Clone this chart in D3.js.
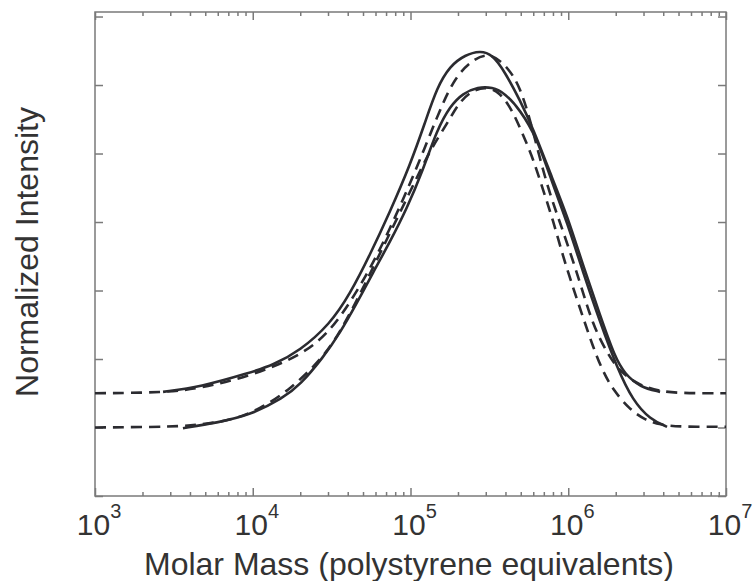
<!DOCTYPE html>
<html>
<head>
<meta charset="utf-8">
<script src="https://cdn.jsdelivr.net/npm/d3@7"></script>
<style>
  body { margin: 0; background: #fff; }
  text { font-family: "Liberation Sans", Arial, sans-serif; fill: #333; }
</style>
</head>
<body>
<div id="chart-area"></div>
<script>
// x values: molar mass, y values: normalized intensity (offset curves)
const massUpperSolid = [2700, 4630, 9610, 13400, 19900, 30900, 41400, 55300, 74100, 99300, 124000, 147000, 178000, 222000, 276000, 329000, 397000, 494000, 598000, 800000, 982000, 1240000, 1590000, 1980000, 2290000, 2850000, 3820000];
const intUpperSolid = [1.52, 1.59, 1.80, 1.91, 2.12, 2.51, 2.95, 3.52, 4.15, 4.83, 5.46, 5.96, 6.28, 6.44, 6.50, 6.45, 6.19, 5.78, 5.37, 4.61, 4.10, 3.37, 2.64, 2.02, 1.78, 1.59, 1.52];

const massUpperFit = [1000, 2780, 4630, 9610, 19900, 30900, 45800, 64100, 89500, 115000, 147000, 186000, 238000, 319000, 428000, 494000, 571000, 733000, 926000, 1190000, 1430000, 1760000, 2130000, 2850000, 3820000, 5100000, 10000000];
const intUpperFit = [1.50, 1.51, 1.57, 1.75, 2.04, 2.39, 2.98, 3.59, 4.32, 4.91, 5.53, 6.07, 6.34, 6.50, 6.22, 5.96, 5.52, 4.51, 3.88, 3.11, 2.50, 2.09, 1.81, 1.61, 1.53, 1.50, 1.50];

const massLowerSolid = [3610, 5930, 9610, 15600, 19900, 27900, 35700, 45800, 57800, 74100, 95000, 120000, 147000, 178000, 215000, 268000, 329000, 397000, 494000, 634000, 800000, 982000, 1240000, 1590000, 2040000, 2570000, 3300000, 4230000];
const intLowerSolid = [0.99, 1.07, 1.18, 1.43, 1.62, 2.02, 2.38, 2.82, 3.26, 3.71, 4.20, 4.76, 5.34, 5.69, 5.88, 5.97, 5.97, 5.88, 5.64, 5.23, 4.54, 4.00, 3.27, 2.54, 1.87, 1.39, 1.12, 1.01];

const massLowerFit = [1000, 3210, 4630, 7500, 11100, 17200, 27900, 35700, 45800, 57800, 74100, 99300, 133000, 170000, 200000, 238000, 297000, 369000, 447000, 517000, 598000, 692000, 800000, 926000, 1070000, 1240000, 1430000, 1640000, 1920000, 2460000, 3070000, 3820000, 5100000, 10000000];
const intLowerFit = [1.00, 1.01, 1.04, 1.11, 1.27, 1.55, 2.02, 2.39, 2.86, 3.33, 3.84, 4.44, 5.05, 5.43, 5.72, 5.90, 5.98, 5.90, 5.61, 5.27, 4.93, 4.47, 4.03, 3.50, 3.05, 2.61, 2.19, 1.84, 1.55, 1.26, 1.11, 1.04, 1.01, 1.01];

const xDomain = [1e3, 1e7];
const xMajor = [1e3, 1e4, 1e5, 1e6, 1e7];
const xExponents = ['3', '4', '5', '6', '7'];
const yTicks = [0, 1, 2, 3, 4, 5, 6, 7];

const margin = { top: 12, right: 27, bottom: 85, left: 95 };
const W = 753, H = 581;
const width = W - margin.left - margin.right;
const height = H - margin.top - margin.bottom;

const svg = d3.select('#chart-area').append('svg')
  .attr('width', W).attr('height', H);
const g = svg.append('g')
  .attr('transform', `translate(${margin.left}, ${margin.top})`);

const x = d3.scaleLog().domain(xDomain).range([0, width]);
const y = d3.scaleLinear().domain([0, 7.066]).range([height, 0]);

// minor ticks 2..9 in each decade
const xMinor = [];
xMajor.slice(0, -1).forEach(d => {
  for (let k = 2; k <= 9; k++) xMinor.push(d * k);
});

const axisColor = '#7a7a7a';
const styleAxis = sel => {
  sel.select('.domain').remove();
  sel.selectAll('line').attr('stroke', axisColor).attr('stroke-width', 1.5);
  sel.selectAll('text').remove();
};

// bottom and top ticks (pointing inward)
g.append('g').attr('transform', `translate(0, ${height})`)
  .call(d3.axisBottom(x).tickValues(xMajor).tickSize(-8)).call(styleAxis);
g.append('g').attr('transform', `translate(0, ${height})`)
  .call(d3.axisBottom(x).tickValues(xMinor).tickSize(-4)).call(styleAxis);
g.append('g')
  .call(d3.axisTop(x).tickValues(xMajor).tickSize(-8)).call(styleAxis);
g.append('g')
  .call(d3.axisTop(x).tickValues(xMinor).tickSize(-4)).call(styleAxis);
// left and right ticks
g.append('g')
  .call(d3.axisLeft(y).tickValues(yTicks).tickSize(-8)).call(styleAxis);
g.append('g').attr('transform', `translate(${width}, 0)`)
  .call(d3.axisRight(y).tickValues(yTicks).tickSize(-8)).call(styleAxis);

// frame
g.append('rect')
  .attr('x', 0).attr('y', 0)
  .attr('width', width).attr('height', height)
  .attr('fill', 'none')
  .attr('stroke', axisColor)
  .attr('stroke-width', 1.5);

// x tick labels: 10^n
xMajor.forEach((d, i) => {
  const t = g.append('text')
    .attr('x', x(d) + 4)
    .attr('y', height + 39)
    .attr('text-anchor', 'middle')
    .attr('font-size', '30px');
  t.append('tspan').text('10');
  t.append('tspan').attr('font-size', '20px').attr('dy', -17).text(xExponents[i]);
});

// axis titles
svg.append('text')
  .attr('x', 409)
  .attr('y', 575)
  .attr('text-anchor', 'middle')
  .attr('font-size', '32px')
  .text('Molar Mass (polystyrene equivalents)');
svg.append('text')
  .attr('transform', 'rotate(-90)')
  .attr('x', -252)
  .attr('y', 38)
  .attr('text-anchor', 'middle')
  .attr('font-size', '32px')
  .text('Normalized Intensity');

// curves
const line = d3.line()
  .x(d => x(d[0]))
  .y(d => y(d[1]))
  .curve(d3.curveBasis);

const series = [
  { m: massUpperFit, v: intUpperFit, dash: '11,7' },
  { m: massLowerFit, v: intLowerFit, dash: '11,7' },
  { m: massUpperSolid, v: intUpperSolid, dash: null },
  { m: massLowerSolid, v: intLowerSolid, dash: null }
];

series.forEach(s => {
  g.append('path')
    .datum(d3.zip(s.m, s.v))
    .attr('d', line)
    .attr('fill', 'none')
    .attr('stroke', '#2b2b30')
    .attr('stroke-width', 2.6)
    .attr('stroke-dasharray', s.dash);
});
</script>
</body>
</html>
